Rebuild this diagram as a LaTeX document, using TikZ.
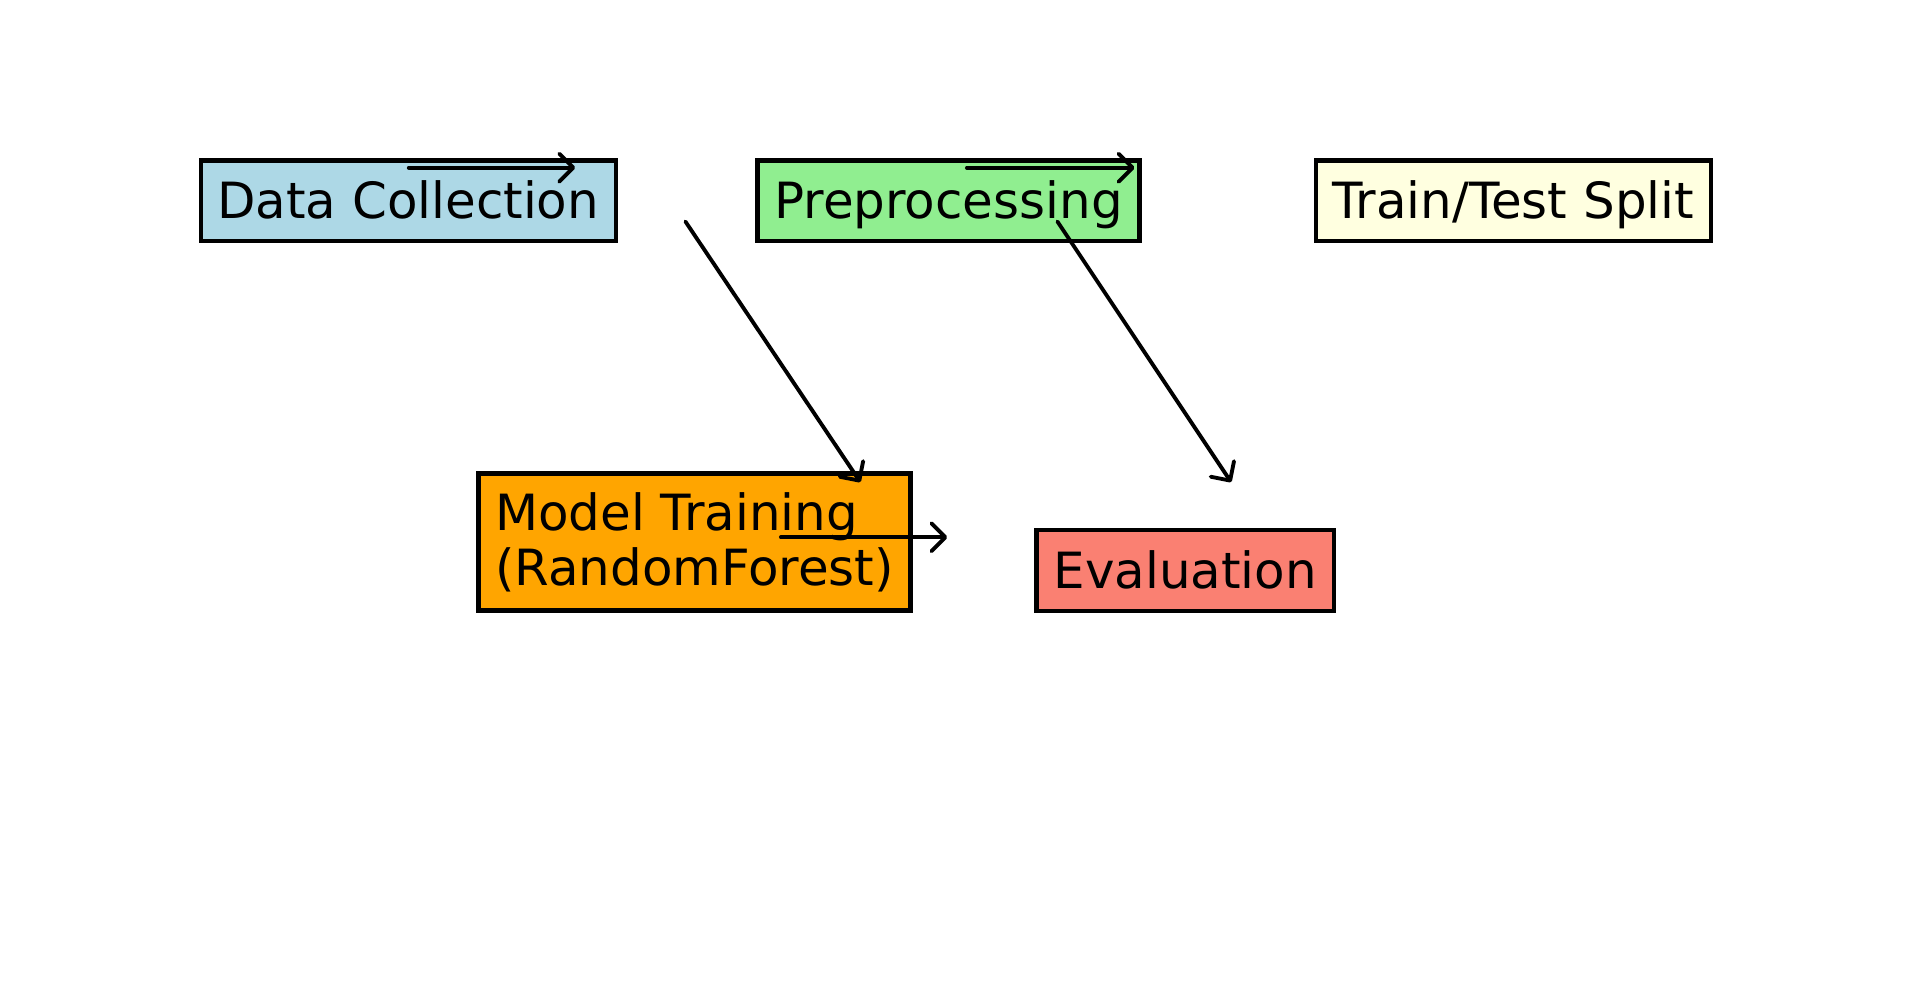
\documentclass[tikz,border=0pt]{standalone}
\usepackage{fontspec}
\setmainfont{DejaVu Sans}
\usetikzlibrary{arrows.meta}
\definecolor{collect}{HTML}{ADD8E6}
\definecolor{prep}{HTML}{90EE90}
\definecolor{split}{HTML}{FFFFE0}
\definecolor{train}{HTML}{FFA500}
\definecolor{evalc}{HTML}{FA8072}
\tikzset{box/.style={draw=black,line width=1.25pt,inner sep=0pt,minimum height=8.08mm,font=\fontsize{14.2}{15.8}\selectfont},one/.style={text height=3.65mm,text depth=0mm},arrow/.style={-{Straight Barb[length=1.4mm,width=2.8mm,round]},line width=1.1pt,line cap=round}}
\begin{document}
\begin{tikzpicture}
\useasboundingbox (0,0) rectangle (19.19,-9.84);
\node[box,one,fill=collect,minimum width=41.5mm] (dc) at (4.082,-2.007) {Data Collection};
\node[box,one,fill=prep,minimum width=38.2mm] (pp) at (9.485,-2.007) {Preprocessing};
\node[box,one,fill=split,minimum width=39.5mm] (ts) at (15.133,-2.007) {Train/Test Split};
\node[box,fill=train,minimum width=43.2mm,minimum height=13.7mm,align=left] (mt) at (6.945,-5.421) {Model Training\\(RandomForest)};
\node[box,one,fill=evalc,minimum width=29.75mm] (ev) at (11.853,-5.703) {Evaluation};
\coordinate (a1s) at (4.088,-1.677);\coordinate (a1e) at (5.752,-1.677);
\coordinate (a2s) at (9.669,-1.677);\coordinate (a2e) at (11.345,-1.677);
\coordinate (a3s) at (6.854,-2.215);\coordinate (a3e) at (8.604,-4.822);
\coordinate (a4s) at (10.574,-2.215);\coordinate (a4e) at (12.312,-4.822);
\coordinate (a5s) at (7.809,-5.373);\coordinate (a5e) at (9.473,-5.373);
\foreach \i in {1,...,5}{\draw[arrow](a\i s)--(a\i e);}
\end{tikzpicture}
\end{document}
